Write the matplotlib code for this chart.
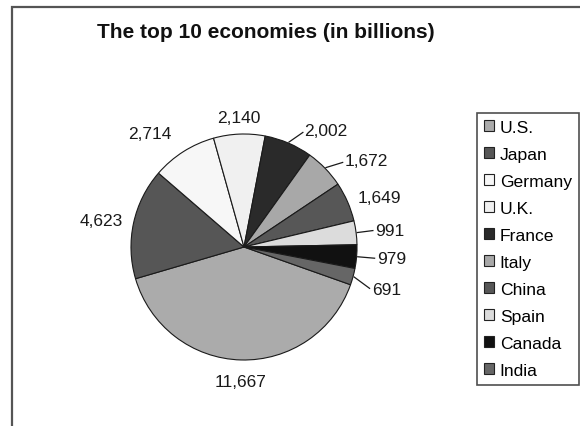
import numpy as np
import matplotlib.pyplot as plt
from matplotlib.patches import Rectangle

plt.rcParams['font.family'] = ['Liberation Sans', 'DejaVu Sans']

# dữ liệu: GDP (tỷ USD)
countries = ["U.S.", "Japan", "Germany", "U.K.", "France",
             "Italy", "China", "Spain", "Canada", "India"]
gdp = [11667, 4623, 2714, 2140, 2002, 1672, 1649, 991, 979, 691]

# màu xám kiểu Excel
colors = ["#ababab", "#565656", "#f7f7f7", "#f0f0f0", "#2a2a2a",
          "#a8a8a8", "#575757", "#dcdcdc", "#111111", "#666666"]

# vị trí nhãn: bán kính tương đối, lệch góc (độ), có đường dẫn hay không
label_r = [1.19, 1.10, 1.19, 1.15, 1.16, 1.17, 1.10, 1.17, 1.18, 1.19]
label_dang = [0, 0, 0, 0, -4, -3.5, 0, 0, 0, -3]
leader = [False, False, False, False, True, True, False, True, True, True]

fig = plt.figure(figsize=(5.8, 4.27), dpi=100)
ax = fig.add_axes([131 / 580, 66 / 427, 226 / 580, 226 / 427])

wedges, _ = ax.pie(gdp, colors=colors, startangle=-19.5, counterclock=False,
                   radius=1.0,
                   wedgeprops=dict(edgecolor="#1a1a1a", linewidth=0.8))
ax.set_xlim(-1, 1)
ax.set_ylim(-1, 1)
ax.set_aspect("equal")
ax.axis("off")

for w, v, r, da, ld in zip(wedges, gdp, label_r, label_dang, leader):
    mid = np.deg2rad((w.theta1 + w.theta2) / 2)
    ang = mid + np.deg2rad(da)
    c, s = np.cos(ang), np.sin(ang)
    if abs(c) < 0.2:
        ha = "center"
    elif c > 0:
        ha = "left"
    else:
        ha = "right"
    if ld:
        ax.plot([1.01 * np.cos(mid), (r - 0.02) * c],
                [1.01 * np.sin(mid), (r - 0.02) * s],
                color="#1a1a1a", lw=0.9, clip_on=False)
    ax.text(r * c, r * s, f"{v:,}", ha=ha, va="center", fontsize=12.5,
            color="#1a1a1a")

fig.text(266 / 580, 1 - 32 / 427, "The top 10 economies (in billions)",
         ha="center", va="center", fontsize=15, fontweight="bold",
         color="#111111")

leg = fig.legend(wedges, countries, loc="upper left",
                 bbox_to_anchor=(477 / 580, 1 - 114 / 427),
                 borderaxespad=0, fancybox=False, frameon=True,
                 fontsize=12.6, handlelength=0.58, handleheight=0.58,
                 handletextpad=0.32, labelspacing=0.685, borderpad=0.4)
leg.get_frame().set_edgecolor("#222222")
leg.get_frame().set_linewidth(1.2)
for h in leg.legend_handles:
    h.set_edgecolor("#222222")
    h.set_linewidth(0.8)

# khung ngoài của biểu đồ
fig.patches.append(Rectangle((12 / 580, -0.2), 1.2, 1.2 - 8 / 427,
                             transform=fig.transFigure, fill=False,
                             edgecolor="#555555", linewidth=1.6))

fig.savefig("out.png", dpi=100)
